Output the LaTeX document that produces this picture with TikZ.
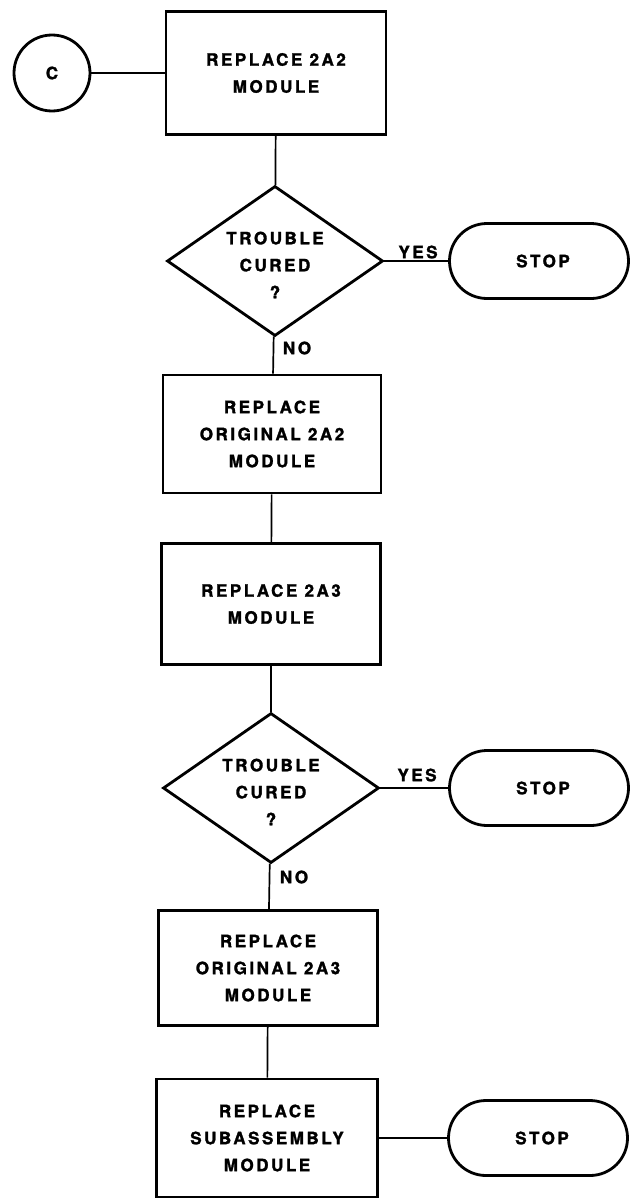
\documentclass[tikz,border=0pt]{standalone}
\usepackage{fontspec}
\setmainfont{TeX Gyre Heros}[LetterSpace=15, BoldFeatures={FakeBold=1.6}]
\usetikzlibrary{shapes.geometric,shapes.misc}
\begin{document}
\begin{tikzpicture}[x=1pt,y=-1pt,
  every node/.style={font=\bfseries\fontsize{17}{27}\selectfont, align=center},
  procbox/.style={draw, rectangle, line width=2.8pt, inner sep=0pt},
  decbox/.style={draw, diamond, line width=2.8pt, inner sep=0pt, aspect=1.44, minimum width=216pt, minimum height=150pt},
  stopbox/.style={draw, rounded rectangle, line width=2.8pt, inner sep=0pt, minimum width=179pt, minimum height=75pt},
  connbox/.style={draw, circle, line width=2.8pt, inner sep=0pt, minimum size=76pt},
  link/.style={line width=1.7pt},
  lbl/.style={inner sep=0pt}
]
\useasboundingbox (0,0) rectangle (630,1199);

\node[connbox] (c) at (52,73) {C};
\node[procbox, minimum width=220pt, minimum height=123pt] (b1) at (276,73) {REPLACE 2A2\\MODULE};
\node[decbox] (d1) at (275,261) {};
\node[lbl] (t1) at (275,265) {TROUBLE\\CURED\\?};
\node[stopbox] (s1) at (539,261) {\hspace*{8pt}STOP};
\node[procbox, minimum width=218pt, minimum height=118pt] (b2) at (272,434) {REPLACE\\ORIGINAL 2A2\\MODULE};
\node[procbox, minimum width=219pt, minimum height=121pt] (b3) at (271,604) {REPLACE 2A3\\MODULE};
\node[decbox] (d2) at (271,788) {};
\node[lbl] (t2) at (271,792) {TROUBLE\\CURED\\?};
\node[stopbox] (s2) at (539,788) {\hspace*{8pt}STOP};
\node[procbox, minimum width=219pt, minimum height=115pt] (b5) at (268,968) {REPLACE\\ORIGINAL 2A3\\MODULE};
\node[procbox, minimum width=221pt, minimum height=118pt] (b6) at (267,1138) {REPLACE\\SUBASSEMBLY\\MODULE};
\node[stopbox] (s3) at (538,1138) {\hspace*{8pt}STOP};

\node[lbl] (y1) at (418,252) {YES};
\node[lbl] (n1) at (297,348) {NO};
\node[lbl] (y2) at (417,775) {YES};
\node[lbl] (n2) at (294,877) {NO};

\draw[link] (c) -- (b1);
\draw[link] (b1) -- (d1);
\draw[link] (d1.east) -- (s1.west);
\draw[link] (d1) -- (b2);
\draw[link] (b2) -- (b3);
\draw[link] (b3) -- (d2);
\draw[link] (d2.east) -- (s2.west);
\draw[link] (d2) -- (b5);
\draw[link] (b5) -- (b6);
\draw[link] (b6) -- (s3);
\end{tikzpicture}
\end{document}
